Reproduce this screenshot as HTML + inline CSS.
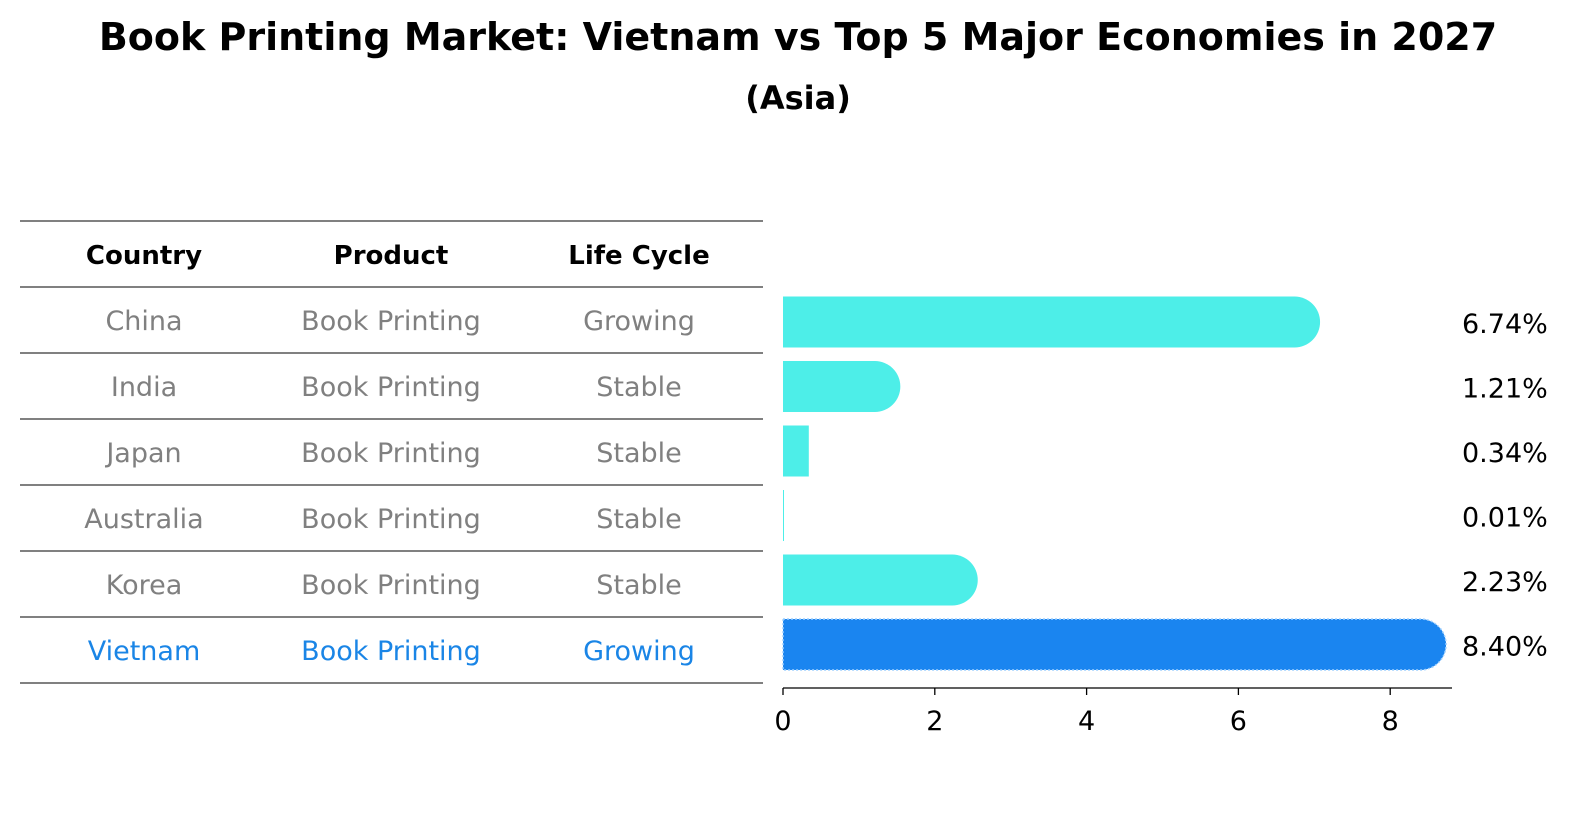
<!DOCTYPE html>
<html><head><meta charset="utf-8"><style>
body{margin:0;background:#fff;font-family:"Liberation Sans","DejaVu Sans",sans-serif;}
</style></head><body>
<svg width="1586" height="823" viewBox="0 0 1586 823" xmlns="http://www.w3.org/2000/svg" font-family="DejaVu Sans, Liberation Sans, sans-serif">
<text x="798" y="50" text-anchor="middle" font-size="38" font-weight="bold">Book Printing Market: Vietnam vs Top 5 Major Economies in 2027</text>
<text x="798" y="109" text-anchor="middle" font-size="32" font-weight="bold">(Asia)</text>
<g id="table"></g>
<g id="bars"></g>
</svg>
<script>
const countries=["China","India","Japan","Australia","Korea","Vietnam"];
const products=["Book Printing","Book Printing","Book Printing","Book Printing","Book Printing","Book Printing"];
const lifeCycles=["Growing","Stable","Stable","Stable","Stable","Growing"];
const values=[6.74,1.21,0.34,0.01,2.23,8.40];
const valueLabels=["6.74%","1.21%","0.34%","0.01%","2.23%","8.40%"];
const ticks=[0,2,4,6,8];
const NS="http://www.w3.org/2000/svg";
function mk(tag,attrs,parent){const e=document.createElementNS(NS,tag);for(const k in attrs)e.setAttribute(k,attrs[k]);parent.appendChild(e);return e;}
const tbl=document.getElementById('table'),bars=document.getElementById('bars');
const rowTop=221,rowH=66,cols=[144,391,639];
const xs=v=>783+v*75.9;
const yc=i=>322+i*64.5;
for(let i=0;i<=7;i++){const l=mk('line',{x1:20,x2:763,y1:rowTop+i*rowH,y2:rowTop+i*rowH,stroke:'#000','stroke-width':1},tbl);

}
["Country","Product","Life Cycle"].forEach((h,j)=>{const t=mk('text',{x:cols[j],y:rowTop+rowH/2+10,'text-anchor':'middle','font-size':26,'font-weight':'bold'},tbl);t.textContent=h;

});
countries.forEach((c,i)=>{const y=rowTop+(i+1)*rowH+rowH/2+10;const col=i===5?'#1a85e6':'#808080';
[c,products[i],lifeCycles[i]].forEach((s,j)=>{const t=mk('text',{x:cols[j],y:y,'text-anchor':'middle','font-size':27,fill:col},tbl);t.textContent=s;

});
const h=51,r=h/2,y0=yc(i)-r,w=xs(values[i])-783;const fill=i===5?'#1a85f0':'#4deee8';
let d;
if(w>=r+5){d=`M783,${y0} H${783+w} A${r},${r} 0 0 1 ${783+w},${y0+h} H783 Z`;}else{d=`M783,${y0} H${783+Math.max(w,1)} V${y0+h} H783 Z`;}
const p=mk('path',{d:d,fill:fill},bars);
if(i===5){p.setAttribute('stroke','#9fd0ff');p.setAttribute('stroke-dasharray','2,2');p.setAttribute('stroke-width','1.5');}


const t=mk('text',{x:1462,y:yc(i)+11,'font-size':27},bars);t.textContent=valueLabels[i];

});
const ax=mk('line',{x1:783,x2:1452,y1:688,y2:688,stroke:'#000','stroke-width':1.3},bars);


ticks.forEach(v=>{const l=mk('line',{x1:xs(v),x2:xs(v),y1:688,y2:695,stroke:'#000','stroke-width':1.3},bars);


const t=mk('text',{x:xs(v),y:730,'text-anchor':'middle','font-size':27},bars);t.textContent=v;

});
</script>
</body></html>
